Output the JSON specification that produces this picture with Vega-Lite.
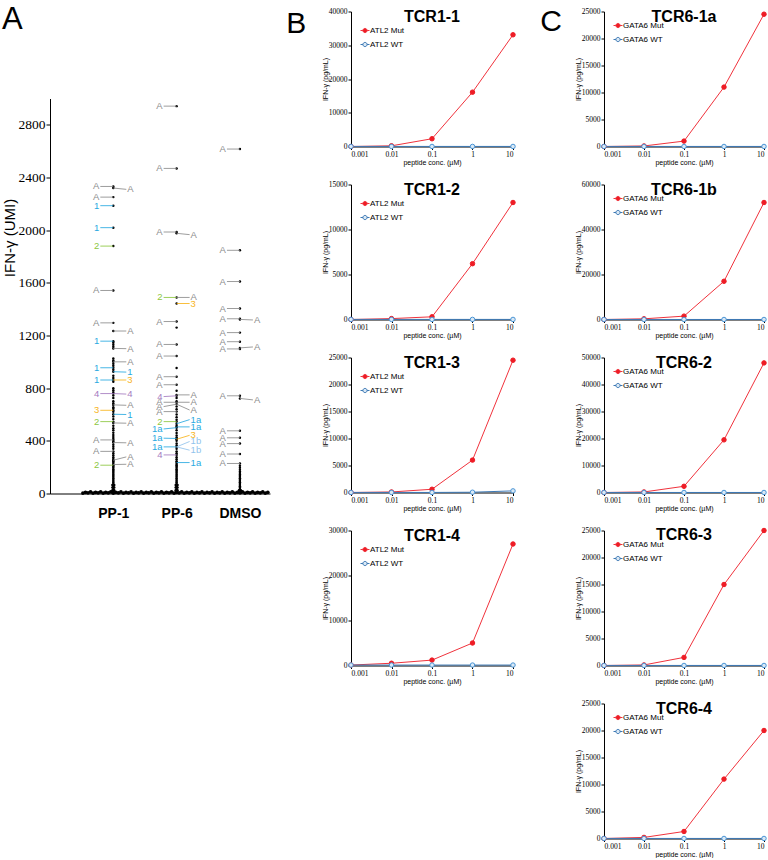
{
"$schema": "https://vega.github.io/schema/vega-lite/v6.json",
"background": "white",
"padding": {"left": 2, "top": 3.5, "right": 0, "bottom": 0},
"config": {
 "view": {"stroke": null},
 "font": "Liberation Sans",
 "axis": {"grid": false, "domainColor": "#000", "tickColor": "#000", "labelColor": "#000", "titleColor": "#000", "labelFont": "Liberation Serif", "labelFontSize": 7.5, "titleFont": "Liberation Sans", "titleFontWeight": "normal", "titleFontSize": 7, "tickSize": 3, "labelPadding": 1, "titlePadding": 0},
 "legend": {"labelFont": "Liberation Sans", "labelFontSize": 8, "labelColor": "#000", "symbolSize": 36, "symbolStrokeWidth": 1, "rowPadding": 4, "labelOffset": 1, "padding": 0},
 "title": {"font": "Liberation Sans", "color": "#000"}
},
"datasets": {
 "band": [
  {"g":0.52,"v":3},{"g":0.56,"v":9},{"g":0.60,"v":5},{"g":0.64,"v":12},{"g":0.68,"v":3},{"g":0.72,"v":9},{"g":0.76,"v":5},{"g":0.80,"v":12},{"g":0.84,"v":3},{"g":0.88,"v":9},{"g":0.92,"v":5},{"g":0.96,"v":12},{"g":1.00,"v":3},{"g":1.04,"v":9},{"g":1.08,"v":5},{"g":1.12,"v":12},{"g":1.16,"v":3},{"g":1.20,"v":9},{"g":1.24,"v":5},{"g":1.28,"v":12},{"g":1.32,"v":3},{"g":1.36,"v":9},{"g":1.40,"v":5},{"g":1.44,"v":12},{"g":1.48,"v":3},{"g":1.52,"v":9},{"g":1.56,"v":5},{"g":1.60,"v":12},{"g":1.64,"v":3},{"g":1.68,"v":9},{"g":1.72,"v":5},{"g":1.76,"v":12},{"g":1.80,"v":3},{"g":1.84,"v":9},{"g":1.88,"v":5},{"g":1.92,"v":12},{"g":1.96,"v":3},{"g":2.00,"v":9},{"g":2.04,"v":5},{"g":2.08,"v":12},{"g":2.12,"v":3},{"g":2.16,"v":9},{"g":2.20,"v":5},{"g":2.24,"v":12},{"g":2.28,"v":3},{"g":2.32,"v":9},{"g":2.36,"v":5},{"g":2.40,"v":12},{"g":2.44,"v":3},{"g":2.48,"v":9},{"g":2.52,"v":5},{"g":2.56,"v":12},{"g":2.60,"v":3},{"g":2.64,"v":9},{"g":2.68,"v":5},{"g":2.72,"v":12},{"g":2.76,"v":3},{"g":2.80,"v":9},{"g":2.84,"v":5},{"g":2.88,"v":12},{"g":2.92,"v":3},{"g":2.96,"v":9},{"g":3.00,"v":5},{"g":3.04,"v":12},{"g":3.08,"v":3},{"g":3.12,"v":9},{"g":3.16,"v":5},{"g":3.20,"v":12},{"g":3.24,"v":3},{"g":3.28,"v":9},{"g":3.32,"v":5},{"g":3.36,"v":12},{"g":3.40,"v":3},{"g":3.44,"v":9}
 ],
 "dots": [
  {"g":1,"v":2332},{"g":1,"v":2320},{"g":1,"v":2251},{"g":1,"v":2186},{"g":1,"v":2019},{"g":1,"v":1879},{"g":1,"v":1542},{"g":1,"v":1296},{"g":1,"v":1234},{"g":1,"v":1157},{"g":1,"v":1145},{"g":1,"v":1130},{"g":1,"v":1115},{"g":1,"v":1102},{"g":1,"v":1025},{"g":1,"v":1010},{"g":1,"v":1000},{"g":1,"v":985},{"g":1,"v":970},{"g":1,"v":955},{"g":1,"v":940},{"g":1,"v":925},{"g":1,"v":895},{"g":1,"v":878},{"g":1,"v":862},{"g":1,"v":848},{"g":1,"v":800},{"g":1,"v":785},{"g":1,"v":770},{"g":1,"v":759},{"g":1,"v":745},{"g":1,"v":725},{"g":1,"v":700},{"g":1,"v":685},{"g":1,"v":673},{"g":1,"v":655},{"g":1,"v":645},{"g":1,"v":632},{"g":1,"v":620},{"g":1,"v":602},{"g":1,"v":585},{"g":1,"v":565},{"g":1,"v":546},{"g":1,"v":536},{"g":1,"v":515},{"g":1,"v":495},{"g":1,"v":480},{"g":1,"v":462},{"g":1,"v":445},{"g":1,"v":430},{"g":1,"v":415},{"g":1,"v":407},{"g":1,"v":395},{"g":1,"v":387},{"g":1,"v":370},{"g":1,"v":355},{"g":1,"v":340},{"g":1,"v":320},{"g":1,"v":305},{"g":1,"v":290},{"g":1,"v":275},{"g":1,"v":262},{"g":1,"v":253},
  {"g":1,"v":245},{"g":1,"v":235},{"g":1,"v":225},{"g":1,"v":215},{"g":1,"v":205},{"g":1,"v":195},{"g":1,"v":185},{"g":1,"v":175},{"g":1,"v":165},{"g":1,"v":155},{"g":1,"v":145},{"g":1,"v":135},{"g":1,"v":125},{"g":1,"v":115},{"g":1,"v":105},{"g":1,"v":95},{"g":1,"v":85},{"g":1,"v":75},{"g":1,"v":65},{"g":1,"v":55},{"g":1,"v":45},{"g":1,"v":35},{"g":1,"v":25},{"g":1,"v":15},{"g":1,"v":5},
  {"g":0.985,"v":5},{"g":0.985,"v":25},{"g":0.985,"v":45},{"g":0.985,"v":65},{"g":1.015,"v":5},{"g":1.015,"v":25},{"g":1.015,"v":45},{"g":1.015,"v":65},
  {"g":2,"v":2942},{"g":2,"v":2469},{"g":2,"v":1986},{"g":2,"v":1976},{"g":2,"v":1489},{"g":2,"v":1443},{"g":2,"v":1306},{"g":2,"v":1260},{"g":2,"v":1132},{"g":2,"v":1044},{"g":2,"v":953},{"g":2,"v":887},{"g":2,"v":826},{"g":2,"v":780},{"g":2,"v":749},{"g":2,"v":742},{"g":2,"v":725},{"g":2,"v":700},{"g":2,"v":693},{"g":2,"v":678},{"g":2,"v":660},{"g":2,"v":640},{"g":2,"v":622},{"g":2,"v":600},{"g":2,"v":580},{"g":2,"v":560},{"g":2,"v":546},{"g":2,"v":530},{"g":2,"v":515},{"g":2,"v":506},{"g":2,"v":500},{"g":2,"v":480},{"g":2,"v":460},{"g":2,"v":440},{"g":2,"v":425},{"g":2,"v":418},{"g":2,"v":412},{"g":2,"v":400},{"g":2,"v":380},{"g":2,"v":365},{"g":2,"v":354},{"g":2,"v":340},{"g":2,"v":320},{"g":2,"v":305},{"g":2,"v":293},{"g":2,"v":275},{"g":2,"v":260},{"g":2,"v":245},{"g":2,"v":235},{"g":2,"v":225},
  {"g":2,"v":215},{"g":2,"v":205},{"g":2,"v":195},{"g":2,"v":185},{"g":2,"v":175},{"g":2,"v":165},{"g":2,"v":155},{"g":2,"v":145},{"g":2,"v":135},{"g":2,"v":125},{"g":2,"v":115},{"g":2,"v":105},{"g":2,"v":95},{"g":2,"v":85},{"g":2,"v":75},{"g":2,"v":65},{"g":2,"v":55},{"g":2,"v":45},{"g":2,"v":35},{"g":2,"v":25},{"g":2,"v":15},{"g":2,"v":5},
  {"g":1.985,"v":5},{"g":1.985,"v":25},{"g":1.985,"v":45},{"g":1.985,"v":65},{"g":2.015,"v":5},{"g":2.015,"v":25},{"g":2.015,"v":45},{"g":2.015,"v":65},
  {"g":3,"v":2616},{"g":3,"v":1847},{"g":3,"v":1610},{"g":3,"v":1405},{"g":3,"v":1327},{"g":3,"v":1322},{"g":3,"v":1222},{"g":3,"v":1153},{"g":3,"v":1106},{"g":3,"v":1098},{"g":3,"v":742},{"g":3,"v":722},{"g":3,"v":476},{"g":3,"v":423},{"g":3,"v":379},{"g":3,"v":300},{"g":3,"v":228},{"g":3,"v":210},{"g":3,"v":195},{"g":3,"v":180},{"g":3,"v":168},
  {"g":3,"v":155},{"g":3,"v":145},{"g":3,"v":135},{"g":3,"v":125},{"g":3,"v":115},{"g":3,"v":105},{"g":3,"v":95},{"g":3,"v":85},{"g":3,"v":75},{"g":3,"v":65},{"g":3,"v":55},{"g":3,"v":45},{"g":3,"v":35},{"g":3,"v":25},{"g":3,"v":15},{"g":3,"v":5},
  {"g":2.985,"v":5},{"g":2.985,"v":25},{"g":3.015,"v":5},{"g":3.015,"v":25}
 ],
 "labs": [
  {"g":1,"v":2332,"lv":2332,"side":"L","lab":"A"},
  {"g":1,"v":2251,"lv":2251,"side":"L","lab":"A"},
  {"g":1,"v":2186,"lv":2186,"side":"L","lab":"1"},
  {"g":1,"v":2019,"lv":2019,"side":"L","lab":"1"},
  {"g":1,"v":1879,"lv":1879,"side":"L","lab":"2"},
  {"g":1,"v":1542,"lv":1542,"side":"L","lab":"A"},
  {"g":1,"v":1296,"lv":1296,"side":"L","lab":"A"},
  {"g":1,"v":1157,"lv":1157,"side":"L","lab":"1"},
  {"g":1,"v":955,"lv":955,"side":"L","lab":"1"},
  {"g":1,"v":862,"lv":862,"side":"L","lab":"1"},
  {"g":1,"v":759,"lv":759,"side":"L","lab":"4"},
  {"g":1,"v":632,"lv":632,"side":"L","lab":"3"},
  {"g":1,"v":546,"lv":546,"side":"L","lab":"2"},
  {"g":1,"v":407,"lv":407,"side":"L","lab":"A"},
  {"g":1,"v":320,"lv":320,"side":"L","lab":"A"},
  {"g":1,"v":215,"lv":215,"side":"L","lab":"2"},
  {"g":1,"v":2320,"lv":2310,"side":"R","lab":"A"},
  {"g":1,"v":1234,"lv":1234,"side":"R","lab":"A"},
  {"g":1,"v":1102,"lv":1100,"side":"R","lab":"A"},
  {"g":1,"v":1000,"lv":1000,"side":"R","lab":"A"},
  {"g":1,"v":925,"lv":922,"side":"R","lab":"1"},
  {"g":1,"v":862,"lv":862,"side":"R","lab":"3"},
  {"g":1,"v":759,"lv":755,"side":"R","lab":"4"},
  {"g":1,"v":673,"lv":670,"side":"R","lab":"A"},
  {"g":1,"v":602,"lv":600,"side":"R","lab":"1"},
  {"g":1,"v":536,"lv":534,"side":"R","lab":"A"},
  {"g":1,"v":387,"lv":385,"side":"R","lab":"A"},
  {"g":1,"v":253,"lv":278,"side":"R","lab":"A"},
  {"g":1,"v":220,"lv":222,"side":"R","lab":"A"},
  {"g":2,"v":2942,"lv":2942,"side":"L","lab":"A"},
  {"g":2,"v":2469,"lv":2469,"side":"L","lab":"A"},
  {"g":2,"v":1986,"lv":1986,"side":"L","lab":"A"},
  {"g":2,"v":1489,"lv":1489,"side":"L","lab":"2"},
  {"g":2,"v":1306,"lv":1306,"side":"L","lab":"A"},
  {"g":2,"v":1132,"lv":1132,"side":"L","lab":"A"},
  {"g":2,"v":1044,"lv":1044,"side":"L","lab":"A"},
  {"g":2,"v":887,"lv":887,"side":"L","lab":"A"},
  {"g":2,"v":826,"lv":826,"side":"L","lab":"A"},
  {"g":2,"v":742,"lv":736,"side":"L","lab":"4"},
  {"g":2,"v":693,"lv":693,"side":"L","lab":"A"},
  {"g":2,"v":678,"lv":660,"side":"L","lab":"A"},
  {"g":2,"v":622,"lv":622,"side":"L","lab":"A"},
  {"g":2,"v":546,"lv":546,"side":"L","lab":"2"},
  {"g":2,"v":500,"lv":490,"side":"L","lab":"1a"},
  {"g":2,"v":418,"lv":420,"side":"L","lab":"1a"},
  {"g":2,"v":354,"lv":354,"side":"L","lab":"1a"},
  {"g":2,"v":293,"lv":293,"side":"L","lab":"4"},
  {"g":2,"v":1976,"lv":1966,"side":"R","lab":"A"},
  {"g":2,"v":1489,"lv":1489,"side":"R","lab":"A"},
  {"g":2,"v":1443,"lv":1443,"side":"R","lab":"3"},
  {"g":2,"v":749,"lv":749,"side":"R","lab":"A"},
  {"g":2,"v":693,"lv":693,"side":"R","lab":"A"},
  {"g":2,"v":678,"lv":634,"side":"R","lab":"A"},
  {"g":2,"v":530,"lv":561,"side":"R","lab":"1a"},
  {"g":2,"v":506,"lv":506,"side":"R","lab":"1a"},
  {"g":2,"v":412,"lv":442,"side":"R","lab":"3"},
  {"g":2,"v":354,"lv":395,"side":"R","lab":"1b"},
  {"g":2,"v":354,"lv":329,"side":"R","lab":"1b"},
  {"g":2,"v":235,"lv":235,"side":"R","lab":"1a"},
  {"g":3,"v":2616,"lv":2616,"side":"L","lab":"A"},
  {"g":3,"v":1847,"lv":1847,"side":"L","lab":"A"},
  {"g":3,"v":1610,"lv":1610,"side":"L","lab":"A"},
  {"g":3,"v":1405,"lv":1405,"side":"L","lab":"A"},
  {"g":3,"v":1327,"lv":1327,"side":"L","lab":"A"},
  {"g":3,"v":1222,"lv":1222,"side":"L","lab":"A"},
  {"g":3,"v":1153,"lv":1153,"side":"L","lab":"A"},
  {"g":3,"v":1098,"lv":1098,"side":"L","lab":"A"},
  {"g":3,"v":742,"lv":742,"side":"L","lab":"A"},
  {"g":3,"v":476,"lv":476,"side":"L","lab":"A"},
  {"g":3,"v":423,"lv":423,"side":"L","lab":"A"},
  {"g":3,"v":379,"lv":379,"side":"L","lab":"A"},
  {"g":3,"v":300,"lv":300,"side":"L","lab":"A"},
  {"g":3,"v":228,"lv":228,"side":"L","lab":"A"},
  {"g":3,"v":1322,"lv":1318,"side":"R","lab":"A"},
  {"g":3,"v":1106,"lv":1113,"side":"R","lab":"A"},
  {"g":3,"v":722,"lv":711,"side":"R","lab":"A"}
 ],
 "bc": [
  {"tcr":"TCR1-1","pep":"ATL2 Mut","conc":0.001,"ifn":0},{"tcr":"TCR1-1","pep":"ATL2 Mut","conc":0.01,"ifn":200},{"tcr":"TCR1-1","pep":"ATL2 Mut","conc":0.1,"ifn":2300},{"tcr":"TCR1-1","pep":"ATL2 Mut","conc":1,"ifn":16100},{"tcr":"TCR1-1","pep":"ATL2 Mut","conc":10,"ifn":33100},
  {"tcr":"TCR1-1","pep":"ATL2 WT","conc":0.001,"ifn":20},{"tcr":"TCR1-1","pep":"ATL2 WT","conc":0.01,"ifn":20},{"tcr":"TCR1-1","pep":"ATL2 WT","conc":0.1,"ifn":20},{"tcr":"TCR1-1","pep":"ATL2 WT","conc":1,"ifn":20},{"tcr":"TCR1-1","pep":"ATL2 WT","conc":10,"ifn":20},
  {"tcr":"TCR1-2","pep":"ATL2 Mut","conc":0.001,"ifn":0},{"tcr":"TCR1-2","pep":"ATL2 Mut","conc":0.01,"ifn":100},{"tcr":"TCR1-2","pep":"ATL2 Mut","conc":0.1,"ifn":300},{"tcr":"TCR1-2","pep":"ATL2 Mut","conc":1,"ifn":6200},{"tcr":"TCR1-2","pep":"ATL2 Mut","conc":10,"ifn":13000},
  {"tcr":"TCR1-2","pep":"ATL2 WT","conc":0.001,"ifn":10},{"tcr":"TCR1-2","pep":"ATL2 WT","conc":0.01,"ifn":10},{"tcr":"TCR1-2","pep":"ATL2 WT","conc":0.1,"ifn":10},{"tcr":"TCR1-2","pep":"ATL2 WT","conc":1,"ifn":10},{"tcr":"TCR1-2","pep":"ATL2 WT","conc":10,"ifn":10},
  {"tcr":"TCR1-3","pep":"ATL2 Mut","conc":0.001,"ifn":0},{"tcr":"TCR1-3","pep":"ATL2 Mut","conc":0.01,"ifn":100},{"tcr":"TCR1-3","pep":"ATL2 Mut","conc":0.1,"ifn":600},{"tcr":"TCR1-3","pep":"ATL2 Mut","conc":1,"ifn":6000},{"tcr":"TCR1-3","pep":"ATL2 Mut","conc":10,"ifn":24500},
  {"tcr":"TCR1-3","pep":"ATL2 WT","conc":0.001,"ifn":10},{"tcr":"TCR1-3","pep":"ATL2 WT","conc":0.01,"ifn":10},{"tcr":"TCR1-3","pep":"ATL2 WT","conc":0.1,"ifn":10},{"tcr":"TCR1-3","pep":"ATL2 WT","conc":1,"ifn":50},{"tcr":"TCR1-3","pep":"ATL2 WT","conc":10,"ifn":300},
  {"tcr":"TCR1-4","pep":"ATL2 Mut","conc":0.001,"ifn":100},{"tcr":"TCR1-4","pep":"ATL2 Mut","conc":0.01,"ifn":500},{"tcr":"TCR1-4","pep":"ATL2 Mut","conc":0.1,"ifn":1200},{"tcr":"TCR1-4","pep":"ATL2 Mut","conc":1,"ifn":5000},{"tcr":"TCR1-4","pep":"ATL2 Mut","conc":10,"ifn":27000},
  {"tcr":"TCR1-4","pep":"ATL2 WT","conc":0.001,"ifn":100},{"tcr":"TCR1-4","pep":"ATL2 WT","conc":0.01,"ifn":100},{"tcr":"TCR1-4","pep":"ATL2 WT","conc":0.1,"ifn":100},{"tcr":"TCR1-4","pep":"ATL2 WT","conc":1,"ifn":100},{"tcr":"TCR1-4","pep":"ATL2 WT","conc":10,"ifn":100},
  {"tcr":"TCR6-1a","pep":"GATA6 Mut","conc":0.001,"ifn":0},{"tcr":"TCR6-1a","pep":"GATA6 Mut","conc":0.01,"ifn":100},{"tcr":"TCR6-1a","pep":"GATA6 Mut","conc":0.1,"ifn":1000},{"tcr":"TCR6-1a","pep":"GATA6 Mut","conc":1,"ifn":11000},{"tcr":"TCR6-1a","pep":"GATA6 Mut","conc":10,"ifn":24500},
  {"tcr":"TCR6-1a","pep":"GATA6 WT","conc":0.001,"ifn":10},{"tcr":"TCR6-1a","pep":"GATA6 WT","conc":0.01,"ifn":10},{"tcr":"TCR6-1a","pep":"GATA6 WT","conc":0.1,"ifn":10},{"tcr":"TCR6-1a","pep":"GATA6 WT","conc":1,"ifn":10},{"tcr":"TCR6-1a","pep":"GATA6 WT","conc":10,"ifn":10},
  {"tcr":"TCR6-1b","pep":"GATA6 Mut","conc":0.001,"ifn":0},{"tcr":"TCR6-1b","pep":"GATA6 Mut","conc":0.01,"ifn":300},{"tcr":"TCR6-1b","pep":"GATA6 Mut","conc":0.1,"ifn":1500},{"tcr":"TCR6-1b","pep":"GATA6 Mut","conc":1,"ifn":17000},{"tcr":"TCR6-1b","pep":"GATA6 Mut","conc":10,"ifn":52000},
  {"tcr":"TCR6-1b","pep":"GATA6 WT","conc":0.001,"ifn":10},{"tcr":"TCR6-1b","pep":"GATA6 WT","conc":0.01,"ifn":10},{"tcr":"TCR6-1b","pep":"GATA6 WT","conc":0.1,"ifn":10},{"tcr":"TCR6-1b","pep":"GATA6 WT","conc":1,"ifn":10},{"tcr":"TCR6-1b","pep":"GATA6 WT","conc":10,"ifn":10},
  {"tcr":"TCR6-2","pep":"GATA6 Mut","conc":0.001,"ifn":0},{"tcr":"TCR6-2","pep":"GATA6 Mut","conc":0.01,"ifn":200},{"tcr":"TCR6-2","pep":"GATA6 Mut","conc":0.1,"ifn":2300},{"tcr":"TCR6-2","pep":"GATA6 Mut","conc":1,"ifn":19500},{"tcr":"TCR6-2","pep":"GATA6 Mut","conc":10,"ifn":48000},
  {"tcr":"TCR6-2","pep":"GATA6 WT","conc":0.001,"ifn":10},{"tcr":"TCR6-2","pep":"GATA6 WT","conc":0.01,"ifn":10},{"tcr":"TCR6-2","pep":"GATA6 WT","conc":0.1,"ifn":10},{"tcr":"TCR6-2","pep":"GATA6 WT","conc":1,"ifn":10},{"tcr":"TCR6-2","pep":"GATA6 WT","conc":10,"ifn":10},
  {"tcr":"TCR6-3","pep":"GATA6 Mut","conc":0.001,"ifn":0},{"tcr":"TCR6-3","pep":"GATA6 Mut","conc":0.01,"ifn":100},{"tcr":"TCR6-3","pep":"GATA6 Mut","conc":0.1,"ifn":1500},{"tcr":"TCR6-3","pep":"GATA6 Mut","conc":1,"ifn":15000},{"tcr":"TCR6-3","pep":"GATA6 Mut","conc":10,"ifn":25000},
  {"tcr":"TCR6-3","pep":"GATA6 WT","conc":0.001,"ifn":10},{"tcr":"TCR6-3","pep":"GATA6 WT","conc":0.01,"ifn":10},{"tcr":"TCR6-3","pep":"GATA6 WT","conc":0.1,"ifn":10},{"tcr":"TCR6-3","pep":"GATA6 WT","conc":1,"ifn":10},{"tcr":"TCR6-3","pep":"GATA6 WT","conc":10,"ifn":10},
  {"tcr":"TCR6-4","pep":"GATA6 Mut","conc":0.001,"ifn":0},{"tcr":"TCR6-4","pep":"GATA6 Mut","conc":0.01,"ifn":200},{"tcr":"TCR6-4","pep":"GATA6 Mut","conc":0.1,"ifn":1300},{"tcr":"TCR6-4","pep":"GATA6 Mut","conc":1,"ifn":11000},{"tcr":"TCR6-4","pep":"GATA6 Mut","conc":10,"ifn":20000},
  {"tcr":"TCR6-4","pep":"GATA6 WT","conc":0.001,"ifn":10},{"tcr":"TCR6-4","pep":"GATA6 WT","conc":0.01,"ifn":10},{"tcr":"TCR6-4","pep":"GATA6 WT","conc":0.1,"ifn":10},{"tcr":"TCR6-4","pep":"GATA6 WT","conc":1,"ifn":10},{"tcr":"TCR6-4","pep":"GATA6 WT","conc":10,"ifn":10}
 ]
},
"resolve": {"scale": {"color": "independent"}, "legend": {"color": "independent"}},
"spacing": 301,
"bounds": "flush",
"hconcat": [
 {
  "spacing": 0, "bounds": "flush",
  "resolve": {"scale": {"color": "independent"}, "legend": {"color": "independent"}},
  "vconcat": [
   {"width": 220, "height": 87, "data": {"values": []}, "mark": "point", "encoding": {}},
   {
    "width": 220, "height": 395,
    "title": {"text": "A", "anchor": "start", "frame": "bounds", "fontSize": 31, "fontWeight": "normal", "offset": 63},
    "layer": [
     {"data": {"name": "band"}, "mark": {"type": "circle", "size": 14, "color": "#000", "opacity": 1},
      "encoding": {
       "x": {"field": "g", "type": "quantitative", "scale": {"domain": [0, 3.475], "nice": false, "zero": false},
        "axis": {"values": [1, 2, 3], "labelExpr": "datum.value === 1 ? 'PP-1' : datum.value === 2 ? 'PP-6' : 'DMSO'", "labelFont": "Liberation Sans", "labelFontWeight": "bold", "labelFontSize": 14, "ticks": false, "tickSize": 0, "labelPadding": 13, "title": null}},
       "y": {"field": "v", "type": "quantitative", "scale": {"domain": [0, 3000], "nice": false},
        "axis": {"title": "IFN-γ (UMI)", "values": [0,200,400,600,800,1000,1200,1400,1600,1800,2000,2200,2400,2600,2800,3000], "format": "d", "labelExpr": "datum.value % 400 === 0 ? datum.label : ''", "labelFontSize": 13.5, "titleFontSize": 15, "tickSize": 4, "labelPadding": 1, "titleY": 139, "titlePadding": 1}}
      }},
     {"data": {"name": "dots"}, "mark": {"type": "circle", "size": 6, "color": "#000", "opacity": 1},
      "encoding": {"x": {"field": "g", "type": "quantitative"}, "y": {"field": "v", "type": "quantitative"}}},
     {"data": {"name": "labs"}, "transform": [{"filter": "datum.side === 'L'"}],
      "mark": {"type": "rule", "x2Offset": -13, "strokeWidth": 1, "opacity": 0.85},
      "encoding": {"x": {"field": "g", "type": "quantitative"}, "x2": {"field": "g"}, "y": {"field": "v", "type": "quantitative"}, "y2": {"field": "lv"},
       "color": {"field": "lab", "type": "nominal", "scale": {"domain": ["A","1","2","3","4","1a","1b"], "range": ["#8c8c8c","#29a9e1","#8dc73f","#f8b41b","#a57bbf","#29a9e1","#92c3ec"]}, "legend": null}}},
     {"data": {"name": "labs"}, "transform": [{"filter": "datum.side === 'R'"}],
      "mark": {"type": "rule", "x2Offset": 13, "strokeWidth": 1, "opacity": 0.85},
      "encoding": {"x": {"field": "g", "type": "quantitative"}, "x2": {"field": "g"}, "y": {"field": "v", "type": "quantitative"}, "y2": {"field": "lv"},
       "color": {"field": "lab", "type": "nominal", "legend": null}}},
     {"data": {"name": "labs"}, "transform": [{"filter": "datum.side === 'L'"}],
      "mark": {"type": "text", "align": "right", "baseline": "middle", "dx": -14, "fontSize": 9.5, "font": "Liberation Sans"},
      "encoding": {"x": {"field": "g", "type": "quantitative"}, "y": {"field": "lv", "type": "quantitative"}, "text": {"field": "lab"}, "color": {"field": "lab", "type": "nominal", "legend": null}}},
     {"data": {"name": "labs"}, "transform": [{"filter": "datum.side === 'R'"}],
      "mark": {"type": "text", "align": "left", "baseline": "middle", "dx": 14, "fontSize": 9.5, "font": "Liberation Sans"},
      "encoding": {"x": {"field": "g", "type": "quantitative"}, "y": {"field": "lv", "type": "quantitative"}, "text": {"field": "lab"}, "color": {"field": "lab", "type": "nominal", "legend": null}}}
    ]
   }
  ]
 },
 {
  "spacing": 253, "bounds": "flush",
  "resolve": {"scale": {"color": "independent"}, "legend": {"color": "independent"}},
  "hconcat": [
   {
    "spacing": 38, "bounds": "flush",
    "resolve": {"scale": {"color": "independent"}, "legend": {"color": "independent"}},
    "title": {"text": "B", "anchor": "start", "frame": "bounds", "offset": -31, "dx": -35, "fontSize": 30, "fontWeight": "normal"},
    "vconcat": [
     {"width": 162, "height": 135, "title": {"text": "TCR1-1", "fontSize": 16, "fontWeight": "bold", "offset": -17},
      "data": {"name": "bc"}, "transform": [{"filter": "datum.tcr === 'TCR1-1'"}],
      "encoding": {"x": {"field": "conc", "type": "quantitative", "scale": {"type": "log", "domain": [0.001, 10]}, "axis": {"values": [0.001, 0.01, 0.1, 1, 10], "format": "~g", "title": "peptide conc. (µM)"}},
       "y": {"field": "ifn", "type": "quantitative", "scale": {"domain": [0, 40000], "nice": false}, "axis": {"values": [0, 10000, 20000, 30000, 40000], "format": "d", "title": "IFN-γ (pg/mL)"}}},
      "layer": [
       {"mark": {"type": "line", "strokeWidth": 1}, "encoding": {"color": {"field": "pep", "type": "nominal", "scale": {"domain": ["ATL2 Mut", "ATL2 WT"], "range": ["#f0323c", "#3c78b4"]},
         "legend": {"title": null, "orient": "none", "legendX": 10, "legendY": 15, "symbolType": "M-1.5,0H-0.7M0.7,0H1.5M-0.7,0A0.7,0.7,0,1,1,0.7,0A0.7,0.7,0,1,1,-0.7,0",
          "encode": {"symbols": {"update": {"fill": {"signal": "indexof(datum.value,'Mut') >= 0 ? '#ee1c25' : '#d9e8f5'"}, "stroke": {"signal": "indexof(datum.value,'Mut') >= 0 ? '#ee1c25' : '#4a95d6'"}}}}}}}},
       {"mark": {"type": "point", "filled": true, "size": 20, "strokeWidth": 1, "opacity": 1},
        "encoding": {"fill": {"condition": {"test": "indexof(datum.pep,'Mut') >= 0", "value": "#ee1c25"}, "value": "#d9e8f5"}, "stroke": {"condition": {"test": "indexof(datum.pep,'Mut') >= 0", "value": "#ee1c25"}, "value": "#4a95d6"}}}
      ]},
     {"width": 162, "height": 135, "title": {"text": "TCR1-2", "fontSize": 16, "fontWeight": "bold", "offset": -17},
      "data": {"name": "bc"}, "transform": [{"filter": "datum.tcr === 'TCR1-2'"}],
      "encoding": {"x": {"field": "conc", "type": "quantitative", "scale": {"type": "log", "domain": [0.001, 10]}, "axis": {"values": [0.001, 0.01, 0.1, 1, 10], "format": "~g", "title": "peptide conc. (µM)"}},
       "y": {"field": "ifn", "type": "quantitative", "scale": {"domain": [0, 15000], "nice": false}, "axis": {"values": [0, 5000, 10000, 15000], "format": "d", "title": "IFN-γ (pg/mL)"}}},
      "layer": [
       {"mark": {"type": "line", "strokeWidth": 1}, "encoding": {"color": {"field": "pep", "type": "nominal", "scale": {"domain": ["ATL2 Mut", "ATL2 WT"], "range": ["#f0323c", "#3c78b4"]},
         "legend": {"title": null, "orient": "none", "legendX": 10, "legendY": 15, "symbolType": "M-1.5,0H-0.7M0.7,0H1.5M-0.7,0A0.7,0.7,0,1,1,0.7,0A0.7,0.7,0,1,1,-0.7,0",
          "encode": {"symbols": {"update": {"fill": {"signal": "indexof(datum.value,'Mut') >= 0 ? '#ee1c25' : '#d9e8f5'"}, "stroke": {"signal": "indexof(datum.value,'Mut') >= 0 ? '#ee1c25' : '#4a95d6'"}}}}}}}},
       {"mark": {"type": "point", "filled": true, "size": 20, "strokeWidth": 1, "opacity": 1},
        "encoding": {"fill": {"condition": {"test": "indexof(datum.pep,'Mut') >= 0", "value": "#ee1c25"}, "value": "#d9e8f5"}, "stroke": {"condition": {"test": "indexof(datum.pep,'Mut') >= 0", "value": "#ee1c25"}, "value": "#4a95d6"}}}
      ]},
     {"width": 162, "height": 135, "title": {"text": "TCR1-3", "fontSize": 16, "fontWeight": "bold", "offset": -17},
      "data": {"name": "bc"}, "transform": [{"filter": "datum.tcr === 'TCR1-3'"}],
      "encoding": {"x": {"field": "conc", "type": "quantitative", "scale": {"type": "log", "domain": [0.001, 10]}, "axis": {"values": [0.001, 0.01, 0.1, 1, 10], "format": "~g", "title": "peptide conc. (µM)"}},
       "y": {"field": "ifn", "type": "quantitative", "scale": {"domain": [0, 25000], "nice": false}, "axis": {"values": [0, 5000, 10000, 15000, 20000, 25000], "format": "d", "title": "IFN-γ (pg/mL)"}}},
      "layer": [
       {"mark": {"type": "line", "strokeWidth": 1}, "encoding": {"color": {"field": "pep", "type": "nominal", "scale": {"domain": ["ATL2 Mut", "ATL2 WT"], "range": ["#f0323c", "#3c78b4"]},
         "legend": {"title": null, "orient": "none", "legendX": 10, "legendY": 15, "symbolType": "M-1.5,0H-0.7M0.7,0H1.5M-0.7,0A0.7,0.7,0,1,1,0.7,0A0.7,0.7,0,1,1,-0.7,0",
          "encode": {"symbols": {"update": {"fill": {"signal": "indexof(datum.value,'Mut') >= 0 ? '#ee1c25' : '#d9e8f5'"}, "stroke": {"signal": "indexof(datum.value,'Mut') >= 0 ? '#ee1c25' : '#4a95d6'"}}}}}}}},
       {"mark": {"type": "point", "filled": true, "size": 20, "strokeWidth": 1, "opacity": 1},
        "encoding": {"fill": {"condition": {"test": "indexof(datum.pep,'Mut') >= 0", "value": "#ee1c25"}, "value": "#d9e8f5"}, "stroke": {"condition": {"test": "indexof(datum.pep,'Mut') >= 0", "value": "#ee1c25"}, "value": "#4a95d6"}}}
      ]},
     {"width": 162, "height": 135, "title": {"text": "TCR1-4", "fontSize": 16, "fontWeight": "bold", "offset": -17},
      "data": {"name": "bc"}, "transform": [{"filter": "datum.tcr === 'TCR1-4'"}],
      "encoding": {"x": {"field": "conc", "type": "quantitative", "scale": {"type": "log", "domain": [0.001, 10]}, "axis": {"values": [0.001, 0.01, 0.1, 1, 10], "format": "~g", "title": "peptide conc. (µM)"}},
       "y": {"field": "ifn", "type": "quantitative", "scale": {"domain": [0, 30000], "nice": false}, "axis": {"values": [0, 10000, 20000, 30000], "format": "d", "title": "IFN-γ (pg/mL)"}}},
      "layer": [
       {"mark": {"type": "line", "strokeWidth": 1}, "encoding": {"color": {"field": "pep", "type": "nominal", "scale": {"domain": ["ATL2 Mut", "ATL2 WT"], "range": ["#f0323c", "#3c78b4"]},
         "legend": {"title": null, "orient": "none", "legendX": 10, "legendY": 15, "symbolType": "M-1.5,0H-0.7M0.7,0H1.5M-0.7,0A0.7,0.7,0,1,1,0.7,0A0.7,0.7,0,1,1,-0.7,0",
          "encode": {"symbols": {"update": {"fill": {"signal": "indexof(datum.value,'Mut') >= 0 ? '#ee1c25' : '#d9e8f5'"}, "stroke": {"signal": "indexof(datum.value,'Mut') >= 0 ? '#ee1c25' : '#4a95d6'"}}}}}}}},
       {"mark": {"type": "point", "filled": true, "size": 20, "strokeWidth": 1, "opacity": 1},
        "encoding": {"fill": {"condition": {"test": "indexof(datum.pep,'Mut') >= 0", "value": "#ee1c25"}, "value": "#d9e8f5"}, "stroke": {"condition": {"test": "indexof(datum.pep,'Mut') >= 0", "value": "#ee1c25"}, "value": "#4a95d6"}}}
      ]}
    ]
   },
   {
    "spacing": 38, "bounds": "flush",
    "resolve": {"scale": {"color": "independent"}, "legend": {"color": "independent"}},
    "title": {"text": "C", "anchor": "start", "frame": "bounds", "offset": -29.5, "dx": -34, "fontSize": 30, "fontWeight": "normal"},
    "vconcat": [
     {"width": 160, "height": 135, "title": {"text": "TCR6-1a", "fontSize": 16, "fontWeight": "bold", "offset": -17},
      "data": {"name": "bc"}, "transform": [{"filter": "datum.tcr === 'TCR6-1a'"}],
      "encoding": {"x": {"field": "conc", "type": "quantitative", "scale": {"type": "log", "domain": [0.001, 10]}, "axis": {"values": [0.001, 0.01, 0.1, 1, 10], "format": "~g", "title": "peptide conc. (µM)"}},
       "y": {"field": "ifn", "type": "quantitative", "scale": {"domain": [0, 25000], "nice": false}, "axis": {"values": [0, 5000, 10000, 15000, 20000, 25000], "format": "d", "title": "IFN-γ (pg/mL)"}}},
      "layer": [
       {"mark": {"type": "line", "strokeWidth": 1}, "encoding": {"color": {"field": "pep", "type": "nominal", "scale": {"domain": ["GATA6 Mut", "GATA6 WT"], "range": ["#f0323c", "#3c78b4"]},
         "legend": {"title": null, "orient": "none", "legendX": 10, "legendY": 10, "symbolType": "M-1.5,0H-0.7M0.7,0H1.5M-0.7,0A0.7,0.7,0,1,1,0.7,0A0.7,0.7,0,1,1,-0.7,0",
          "encode": {"symbols": {"update": {"fill": {"signal": "indexof(datum.value,'Mut') >= 0 ? '#ee1c25' : '#d9e8f5'"}, "stroke": {"signal": "indexof(datum.value,'Mut') >= 0 ? '#ee1c25' : '#4a95d6'"}}}}}}}},
       {"mark": {"type": "point", "filled": true, "size": 20, "strokeWidth": 1, "opacity": 1},
        "encoding": {"fill": {"condition": {"test": "indexof(datum.pep,'Mut') >= 0", "value": "#ee1c25"}, "value": "#d9e8f5"}, "stroke": {"condition": {"test": "indexof(datum.pep,'Mut') >= 0", "value": "#ee1c25"}, "value": "#4a95d6"}}}
      ]},
     {"width": 160, "height": 135, "title": {"text": "TCR6-1b", "fontSize": 16, "fontWeight": "bold", "offset": -17},
      "data": {"name": "bc"}, "transform": [{"filter": "datum.tcr === 'TCR6-1b'"}],
      "encoding": {"x": {"field": "conc", "type": "quantitative", "scale": {"type": "log", "domain": [0.001, 10]}, "axis": {"values": [0.001, 0.01, 0.1, 1, 10], "format": "~g", "title": "peptide conc. (µM)"}},
       "y": {"field": "ifn", "type": "quantitative", "scale": {"domain": [0, 60000], "nice": false}, "axis": {"values": [0, 20000, 40000, 60000], "format": "d", "title": "IFN-γ (pg/mL)"}}},
      "layer": [
       {"mark": {"type": "line", "strokeWidth": 1}, "encoding": {"color": {"field": "pep", "type": "nominal", "scale": {"domain": ["GATA6 Mut", "GATA6 WT"], "range": ["#f0323c", "#3c78b4"]},
         "legend": {"title": null, "orient": "none", "legendX": 10, "legendY": 10, "symbolType": "M-1.5,0H-0.7M0.7,0H1.5M-0.7,0A0.7,0.7,0,1,1,0.7,0A0.7,0.7,0,1,1,-0.7,0",
          "encode": {"symbols": {"update": {"fill": {"signal": "indexof(datum.value,'Mut') >= 0 ? '#ee1c25' : '#d9e8f5'"}, "stroke": {"signal": "indexof(datum.value,'Mut') >= 0 ? '#ee1c25' : '#4a95d6'"}}}}}}}},
       {"mark": {"type": "point", "filled": true, "size": 20, "strokeWidth": 1, "opacity": 1},
        "encoding": {"fill": {"condition": {"test": "indexof(datum.pep,'Mut') >= 0", "value": "#ee1c25"}, "value": "#d9e8f5"}, "stroke": {"condition": {"test": "indexof(datum.pep,'Mut') >= 0", "value": "#ee1c25"}, "value": "#4a95d6"}}}
      ]},
     {"width": 160, "height": 135, "title": {"text": "TCR6-2", "fontSize": 16, "fontWeight": "bold", "offset": -17},
      "data": {"name": "bc"}, "transform": [{"filter": "datum.tcr === 'TCR6-2'"}],
      "encoding": {"x": {"field": "conc", "type": "quantitative", "scale": {"type": "log", "domain": [0.001, 10]}, "axis": {"values": [0.001, 0.01, 0.1, 1, 10], "format": "~g", "title": "peptide conc. (µM)"}},
       "y": {"field": "ifn", "type": "quantitative", "scale": {"domain": [0, 50000], "nice": false}, "axis": {"values": [0, 10000, 20000, 30000, 40000, 50000], "format": "d", "title": "IFN-γ (pg/mL)"}}},
      "layer": [
       {"mark": {"type": "line", "strokeWidth": 1}, "encoding": {"color": {"field": "pep", "type": "nominal", "scale": {"domain": ["GATA6 Mut", "GATA6 WT"], "range": ["#f0323c", "#3c78b4"]},
         "legend": {"title": null, "orient": "none", "legendX": 10, "legendY": 10, "symbolType": "M-1.5,0H-0.7M0.7,0H1.5M-0.7,0A0.7,0.7,0,1,1,0.7,0A0.7,0.7,0,1,1,-0.7,0",
          "encode": {"symbols": {"update": {"fill": {"signal": "indexof(datum.value,'Mut') >= 0 ? '#ee1c25' : '#d9e8f5'"}, "stroke": {"signal": "indexof(datum.value,'Mut') >= 0 ? '#ee1c25' : '#4a95d6'"}}}}}}}},
       {"mark": {"type": "point", "filled": true, "size": 20, "strokeWidth": 1, "opacity": 1},
        "encoding": {"fill": {"condition": {"test": "indexof(datum.pep,'Mut') >= 0", "value": "#ee1c25"}, "value": "#d9e8f5"}, "stroke": {"condition": {"test": "indexof(datum.pep,'Mut') >= 0", "value": "#ee1c25"}, "value": "#4a95d6"}}}
      ]},
     {"width": 160, "height": 135, "title": {"text": "TCR6-3", "fontSize": 16, "fontWeight": "bold", "offset": -17},
      "data": {"name": "bc"}, "transform": [{"filter": "datum.tcr === 'TCR6-3'"}],
      "encoding": {"x": {"field": "conc", "type": "quantitative", "scale": {"type": "log", "domain": [0.001, 10]}, "axis": {"values": [0.001, 0.01, 0.1, 1, 10], "format": "~g", "title": "peptide conc. (µM)"}},
       "y": {"field": "ifn", "type": "quantitative", "scale": {"domain": [0, 25000], "nice": false}, "axis": {"values": [0, 5000, 10000, 15000, 20000, 25000], "format": "d", "title": "IFN-γ (pg/mL)"}}},
      "layer": [
       {"mark": {"type": "line", "strokeWidth": 1}, "encoding": {"color": {"field": "pep", "type": "nominal", "scale": {"domain": ["GATA6 Mut", "GATA6 WT"], "range": ["#f0323c", "#3c78b4"]},
         "legend": {"title": null, "orient": "none", "legendX": 10, "legendY": 10, "symbolType": "M-1.5,0H-0.7M0.7,0H1.5M-0.7,0A0.7,0.7,0,1,1,0.7,0A0.7,0.7,0,1,1,-0.7,0",
          "encode": {"symbols": {"update": {"fill": {"signal": "indexof(datum.value,'Mut') >= 0 ? '#ee1c25' : '#d9e8f5'"}, "stroke": {"signal": "indexof(datum.value,'Mut') >= 0 ? '#ee1c25' : '#4a95d6'"}}}}}}}},
       {"mark": {"type": "point", "filled": true, "size": 20, "strokeWidth": 1, "opacity": 1},
        "encoding": {"fill": {"condition": {"test": "indexof(datum.pep,'Mut') >= 0", "value": "#ee1c25"}, "value": "#d9e8f5"}, "stroke": {"condition": {"test": "indexof(datum.pep,'Mut') >= 0", "value": "#ee1c25"}, "value": "#4a95d6"}}}
      ]},
     {"width": 160, "height": 135, "title": {"text": "TCR6-4", "fontSize": 16, "fontWeight": "bold", "offset": -17},
      "data": {"name": "bc"}, "transform": [{"filter": "datum.tcr === 'TCR6-4'"}],
      "encoding": {"x": {"field": "conc", "type": "quantitative", "scale": {"type": "log", "domain": [0.001, 10]}, "axis": {"values": [0.001, 0.01, 0.1, 1, 10], "format": "~g", "title": "peptide conc. (µM)"}},
       "y": {"field": "ifn", "type": "quantitative", "scale": {"domain": [0, 25000], "nice": false}, "axis": {"values": [0, 5000, 10000, 15000, 20000, 25000], "format": "d", "title": "IFN-γ (pg/mL)"}}},
      "layer": [
       {"mark": {"type": "line", "strokeWidth": 1}, "encoding": {"color": {"field": "pep", "type": "nominal", "scale": {"domain": ["GATA6 Mut", "GATA6 WT"], "range": ["#f0323c", "#3c78b4"]},
         "legend": {"title": null, "orient": "none", "legendX": 10, "legendY": 10, "symbolType": "M-1.5,0H-0.7M0.7,0H1.5M-0.7,0A0.7,0.7,0,1,1,0.7,0A0.7,0.7,0,1,1,-0.7,0",
          "encode": {"symbols": {"update": {"fill": {"signal": "indexof(datum.value,'Mut') >= 0 ? '#ee1c25' : '#d9e8f5'"}, "stroke": {"signal": "indexof(datum.value,'Mut') >= 0 ? '#ee1c25' : '#4a95d6'"}}}}}}}},
       {"mark": {"type": "point", "filled": true, "size": 20, "strokeWidth": 1, "opacity": 1},
        "encoding": {"fill": {"condition": {"test": "indexof(datum.pep,'Mut') >= 0", "value": "#ee1c25"}, "value": "#d9e8f5"}, "stroke": {"condition": {"test": "indexof(datum.pep,'Mut') >= 0", "value": "#ee1c25"}, "value": "#4a95d6"}}}
      ]}
    ]
   }
  ]
 }
]
}
